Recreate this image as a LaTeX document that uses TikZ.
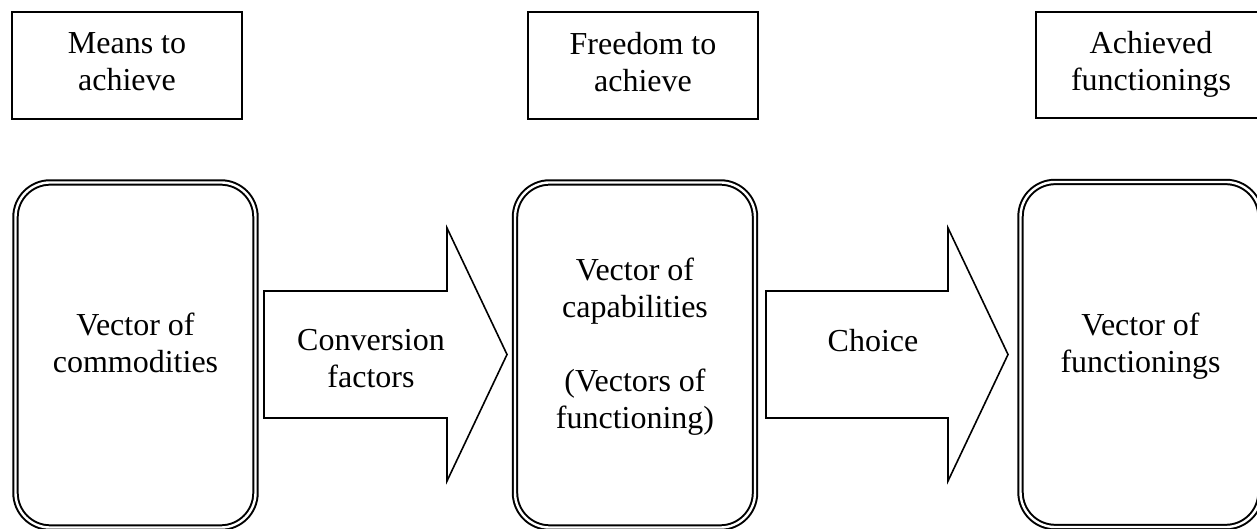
\documentclass[tikz,border=0pt]{standalone}
\usepackage{fontspec}
\setmainfont{Liberation Serif}
\usetikzlibrary{positioning}
\tikzset{
  goal/.style  ={draw,line width=0.7pt,align=center,inner sep=2pt,
                 minimum width=86pt,minimum height=40pt,text depth=3pt},
  stage/.style ={draw,double,double distance=0.9pt,line width=0.75pt,
                 rounded corners=13pt,align=center,inner sep=2pt,
                 minimum width=90pt,minimum height=129.4pt,text depth=9pt},
  bigarrow/.style={draw,line width=0.6pt,line join=miter},
  lbl/.style   ={align=center,inner sep=0pt},
}

\begin{document}
\begin{tikzpicture}[x=0.375pt,y=-0.375pt,font=\fontsize{12}{13.9}\selectfont]
  \useasboundingbox (0,0) rectangle (1257,529);
  % what each stage stands for
  \node[goal] (means)    at (127,65.5)  {Means to\\achieve};
  \node[goal] (freedom)  at (643,65.5)  {Freedom to\\achieve};
  \node[goal] (achieved) at (1151,65)   {Achieved\\functionings};
  % the three vectors
  \node[stage] (commod) at (135.5,355) {Vector of\\commodities};
  \node[stage] (capab)  at (635,355)   {Vector of\\capabilities\\[13.9pt](Vectors of\\functioning)};
  \node[stage] (funct)  at (1140.5,354.5) {Vector of\\functionings};
  % block arrows between them
  \foreach \xa/\xb/\xc in {264/447/507, 766/948/1008}
    \draw[bigarrow] (\xa,291) -- (\xb,291) -- (\xb,228) -- (\xc,354.5)
      -- (\xb,481) -- (\xb,418) -- (\xa,418) -- cycle;
  \node[lbl] (conv)   at (371,358.5) {Conversion\\factors};
  \node[lbl] (choice) at (873,341)   {Choice};
\end{tikzpicture}
\end{document}
